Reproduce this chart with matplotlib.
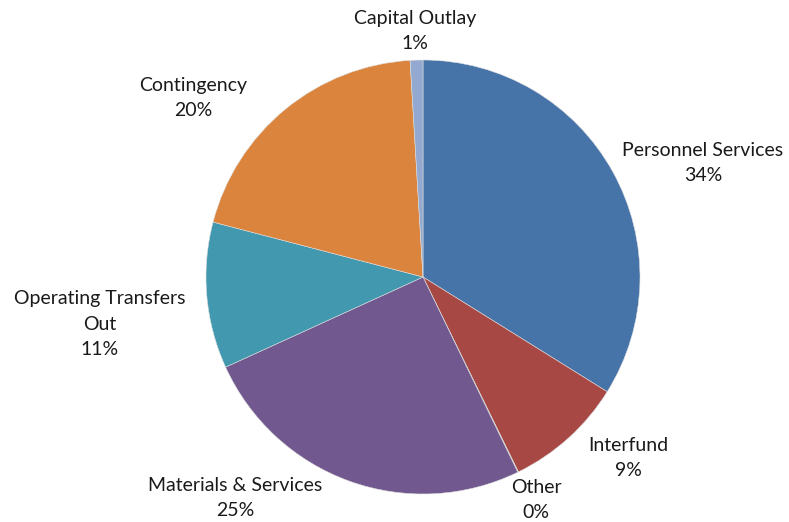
import matplotlib
matplotlib.use("Agg")
import matplotlib.pyplot as plt
import numpy as np

categories = ["Personnel Services", "Interfund", "Other", "Materials & Services",
              "Operating Transfers\nOut", "Contingency", "Capital Outlay"]
values = [33.9, 8.9, 0.05, 25.4, 10.9, 20.0, 0.95]
pct_labels = ["34%", "9%", "0%", "25%", "11%", "20%", "1%"]
colors = ["#4674A9", "#A84845", "#89A54E", "#71588F", "#4198AF", "#DB843D", "#93A9CF"]

# label centers (pixels, top-left origin) - layout only
label_pos = [(703, 163), (628, 458), (536, 500), (235, 498), (100, 324), (193, 98), (415, 31)]

W, H = 789, 522
fig = plt.figure(figsize=(W / 100, H / 100), dpi=100)
ax = fig.add_axes([0, 0, 1, 1])

cx, cy, r = 423, H - 277, 217
wedges, _ = ax.pie(values, colors=colors, startangle=90, counterclock=False,
                   center=(cx, cy), radius=r, frame=True,
                   wedgeprops=dict(edgecolor="#DDDDDD", linewidth=0.4))
ax.set_xlim(0, W)
ax.set_ylim(0, H)
ax.set_aspect("auto")
ax.axis("off")

for name, pct, (lx, ly) in zip(categories, pct_labels, label_pos):
    ax.text(lx, H - ly, name + "\n" + pct, ha="center", va="center",
            fontsize=14, family="Lato", linespacing=1.62, color="#1a1a1a")

fig.savefig("out.png", dpi=100)
